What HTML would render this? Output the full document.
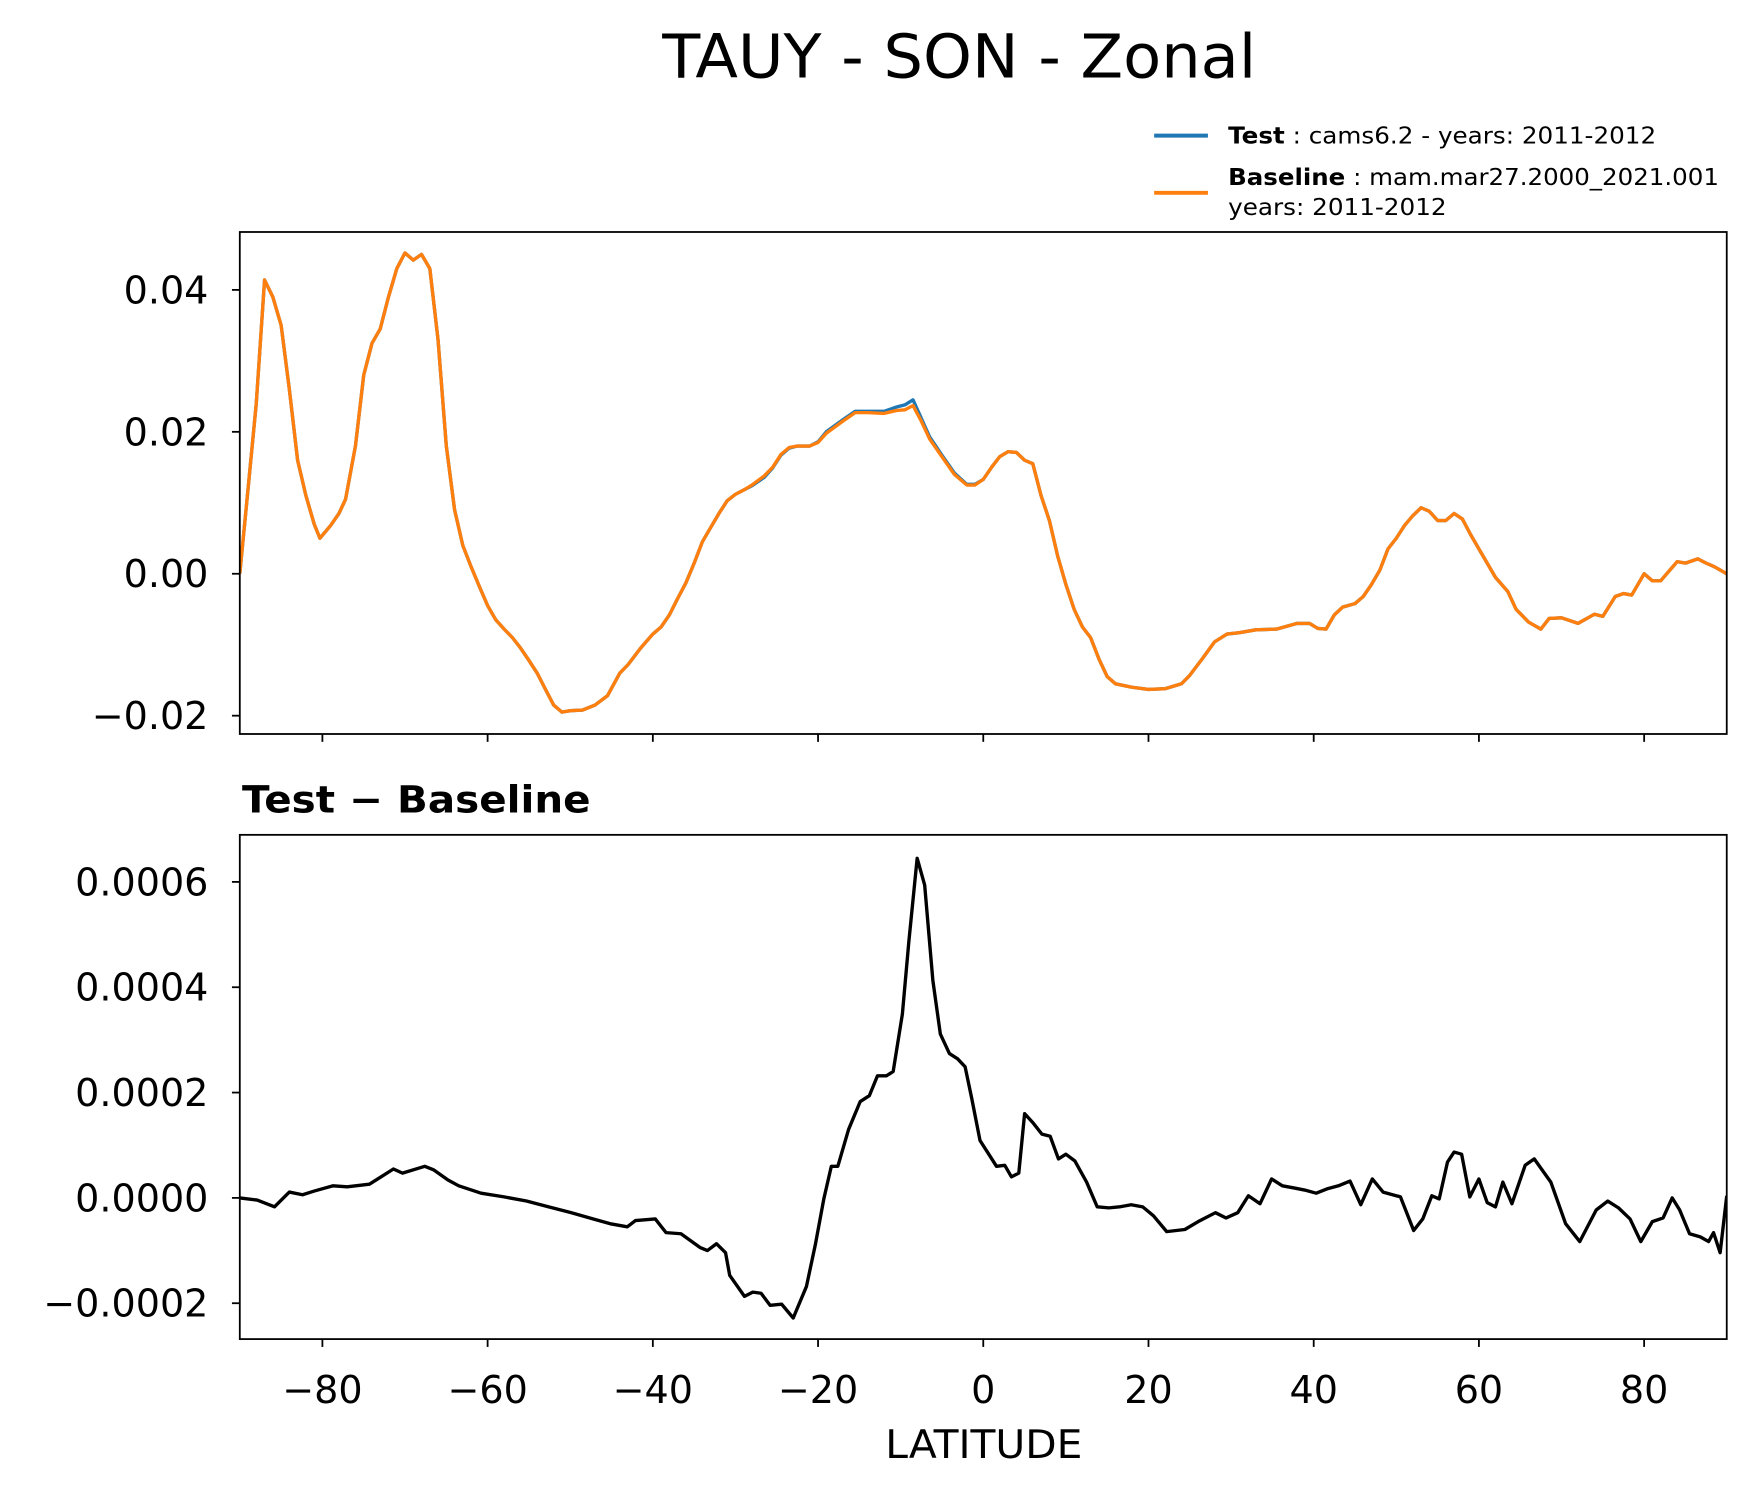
<!DOCTYPE html>
<html><head><meta charset="utf-8"><style>
html,body{margin:0;padding:0;background:#fff}
svg{display:block;font-family:"DejaVu Sans","Liberation Sans",sans-serif}
</style></head><body>
<svg id="chart" width="1757" height="1496" viewBox="0 0 1568 1335" xmlns="http://www.w3.org/2000/svg">
<rect width="1568" height="1335" fill="#fff"/>
<text x="856" y="69" font-size="54" text-anchor="middle" textLength="530" lengthAdjust="spacingAndGlyphs">TAUY - SON - Zonal</text>
<g>
<line x1="1030" y1="121" x2="1078" y2="121" stroke="#1f77b4" stroke-width="3.5"/>
<text x="1096" y="128" font-size="21" textLength="382" lengthAdjust="spacingAndGlyphs"><tspan font-weight="bold">Test</tspan> : cams6.2 - years: 2011-2012</text>
<line x1="1030" y1="172" x2="1078" y2="172" stroke="#ff7f0e" stroke-width="3.5"/>
<text x="1096" y="165" font-size="21" textLength="438" lengthAdjust="spacingAndGlyphs"><tspan font-weight="bold">Baseline</tspan> : mam.mar27.2000_2021.001</text>
<text x="1096" y="192" font-size="21" textLength="195" lengthAdjust="spacingAndGlyphs">years: 2011-2012</text>
</g>
<text x="216" y="725" font-size="33" font-weight="bold" textLength="311" lengthAdjust="spacingAndGlyphs">Test − Baseline</text>
<text x="878" y="1301" font-size="35" text-anchor="middle" textLength="176" lengthAdjust="spacingAndGlyphs">LATITUDE</text>
<g id="top"></g>
<g id="bot"></g>
</svg>
<script>
const lats=[-90,-89,-88,-87,-86,-85,-84,-83,-82,-81,-80.3,-79,-78,-77.2,-76,-75,-74,-73,-72,-71,-70,-69,-68,-67,-66,-65,-64,-63,-62,-61,-60,-59,-58,-57,-56,-55,-54,-53,-52,-51,-50,-48.5,-47,-45.5,-44,-43,-41.5,-40,-39,-38,-37,-36,-35,-34,-33,-32,-31,-30,-29,-28,-26.5,-25.5,-24.5,-23.5,-22.5,-21,-20,-19,-17,-15.5,-14,-12,-10.5,-9.5,-8.5,-7.5,-6.5,-5,-3.5,-2,-1,0,1,2,3,4,5,6,7,8,9,10,11,12,13,14,15,16,18,20,22,24,25,26.5,28,29.5,31,33,35.5,38,39.5,40.5,41.5,42.5,43.5,45,46,47,48,49,50,51,52,53,54,55,56,57,58,59,60,61,62,63.5,64.5,66,67.5,68.5,70,72,74,75,76.5,77.5,78.5,80,81,82,84,85,86.5,87.5,88.5,90];
const baseVals=[0,0.012,0.024,0.0414,0.039,0.035,0.026,0.016,0.011,0.007,0.005,0.0068,0.0085,0.0105,0.018,0.028,0.0325,0.0345,0.039,0.043,0.0452,0.0442,0.045,0.043,0.033,0.018,0.009,0.004,0.001,-0.0018,-0.0045,-0.0065,-0.0078,-0.009,-0.0105,-0.0122,-0.014,-0.0163,-0.0185,-0.0195,-0.0193,-0.0192,-0.0185,-0.0172,-0.014,-0.0128,-0.0105,-0.0085,-0.0075,-0.0058,-0.0035,-0.0013,0.0015,0.0045,0.0065,0.0085,0.0103,0.0112,0.0118,0.0125,0.0138,0.015,0.0168,0.0178,0.018,0.018,0.0185,0.0198,0.0215,0.0227,0.0227,0.0226,0.023,0.0231,0.0237,0.0215,0.019,0.0165,0.014,0.0125,0.0125,0.0133,0.015,0.0165,0.0172,0.0171,0.016,0.0155,0.011,0.0075,0.0025,-0.0015,-0.005,-0.0075,-0.009,-0.012,-0.0145,-0.0155,-0.016,-0.0163,-0.0162,-0.0155,-0.0143,-0.012,-0.0096,-0.0085,-0.0083,-0.0079,-0.0078,-0.007,-0.007,-0.0077,-0.0078,-0.0058,-0.0047,-0.0042,-0.0032,-0.0015,0.0005,0.0035,0.005,0.0068,0.0082,0.0093,0.0088,0.0075,0.0075,0.0085,0.0077,0.0055,0.0035,0.0015,-0.0005,-0.0025,-0.005,-0.0068,-0.0078,-0.0063,-0.0062,-0.007,-0.0057,-0.006,-0.0032,-0.0028,-0.003,0,-0.001,-0.001,0.0017,0.0015,0.0021,0.0015,0.001,0];
const testVals=[0,0.012,0.024,0.0414,0.039,0.035,0.026,0.016,0.011,0.007,0.005,0.0068,0.0085,0.0105,0.018,0.028,0.0325,0.0345,0.039,0.043,0.0452,0.0442,0.045,0.043,0.033,0.018,0.009,0.004,0.001,-0.0018,-0.0045,-0.0065,-0.0078,-0.009,-0.0105,-0.0122,-0.014,-0.0163,-0.0185,-0.0195,-0.0193,-0.0192,-0.0185,-0.0172,-0.014,-0.0128,-0.0105,-0.0085,-0.0075,-0.0058,-0.0035,-0.0013,0.0015,0.0045,0.0065,0.0085,0.0103,0.0112,0.0118,0.0124,0.0136,0.0149,0.0167,0.0177,0.018,0.018,0.0186,0.02,0.0217,0.0229,0.0229,0.0229,0.0235,0.0238,0.0245,0.0219,0.0193,0.0167,0.0142,0.0126,0.0126,0.0133,0.015,0.0165,0.0172,0.0171,0.016,0.0155,0.011,0.0075,0.0025,-0.0015,-0.005,-0.0075,-0.009,-0.012,-0.0145,-0.0155,-0.016,-0.0163,-0.0162,-0.0155,-0.0143,-0.012,-0.0096,-0.0085,-0.0083,-0.0079,-0.0078,-0.007,-0.007,-0.0077,-0.0078,-0.0058,-0.0047,-0.0042,-0.0032,-0.0015,0.0005,0.0035,0.005,0.0068,0.0082,0.0093,0.0088,0.0075,0.0075,0.0085,0.0077,0.0055,0.0035,0.0015,-0.0005,-0.0025,-0.005,-0.0068,-0.0078,-0.0063,-0.0062,-0.007,-0.0057,-0.006,-0.0032,-0.0028,-0.003,0,-0.001,-0.001,0.0017,0.0015,0.0021,0.0015,0.001,0];
const diffLats=[-90,-87.9,-85.8,-84,-82.4,-81,-78.7,-77,-74.3,-72.9,-71.4,-70.3,-67.6,-66.5,-64.8,-63.5,-60.8,-58,-55.3,-52.6,-49.9,-47.2,-45.2,-43.1,-42.1,-39.7,-38.4,-36.6,-34.3,-33.4,-32.3,-31.2,-30.7,-28.9,-27.9,-26.9,-25.8,-24.4,-23,-21.4,-20.3,-19.3,-18.4,-17.6,-16.3,-14.9,-13.8,-12.8,-11.7,-10.9,-9.8,-9,-8,-7.1,-6.1,-5.2,-4.1,-3.1,-2.2,-1.4,-0.4,0.5,1.6,2.6,3.4,4.3,5,6,7.1,8.1,9.1,10,11.1,12.5,13.8,15.2,16.5,17.9,19.3,20.6,22.2,24.4,26,28.1,29.4,30.8,32.1,33.5,34.9,36.2,37.6,38.9,40.3,41.6,43,44.4,45.7,47.1,48.4,50.5,52.1,53.2,54.3,55.2,56.2,57,57.9,58.9,60,61,62,62.9,64,65.6,66.7,68.7,70.5,72.2,74.2,75.6,76.9,78.3,79.6,81,82.3,83.4,84.3,85.5,86.8,87.8,88.4,89.2,90];
const diffVals=[0,-0.000004,-0.000017,0.000011,0.000006,0.000013,0.000023,0.000021,0.000026,0.00004,0.000055,0.000047,0.00006,0.000053,0.000034,0.000023,0.000009,0.000002,-0.000006,-0.000017,-0.000028,-0.00004,-0.000049,-0.000055,-0.000043,-0.00004,-0.000066,-0.000068,-0.000094,-0.0001,-0.000087,-0.000104,-0.000147,-0.000187,-0.000179,-0.000181,-0.000204,-0.000202,-0.000228,-0.000168,-0.000087,-0.000002,0.00006,0.00006,0.00013,0.000183,0.000194,0.000232,0.000232,0.00024,0.000349,0.000487,0.000645,0.000594,0.000413,0.000311,0.000274,0.000264,0.000249,0.000189,0.000109,0.000087,0.00006,0.000062,0.00004,0.000047,0.00016,0.000143,0.000121,0.000117,0.000074,0.000083,0.00007,0.00003,-0.000017,-0.000019,-0.000017,-0.000013,-0.000017,-0.000034,-0.000064,-0.00006,-0.000045,-0.000028,-0.000038,-0.000028,0.000004,-0.000011,0.000036,0.000023,0.000019,0.000015,0.000009,0.000017,0.000023,0.000032,-0.000013,0.000036,0.000011,0.000002,-0.000062,-0.00004,0.000004,-0.000002,0.000068,0.000087,0.000083,0.000002,0.000036,-0.000009,-0.000017,0.00003,-0.000011,0.000062,0.000074,0.00003,-0.000049,-0.000083,-0.000023,-0.000006,-0.000019,-0.00004,-0.000083,-0.000045,-0.000038,0,-0.000023,-0.000068,-0.000074,-0.000083,-0.000066,-0.000104,0.000004];
const xTicks=[-80,-60,-40,-20,0,20,40,60,80];
const xTickLabels=["−80","−60","−40","−20","0","20","40","60","80"];
const topYTicks=[-0.02,0,0.02,0.04];
const topYLabels=["−0.02","0.00","0.02","0.04"];
const botYTicks=[-0.0002,0,0.0002,0.0004,0.0006];
const botYLabels=["−0.0002","0.0000","0.0002","0.0004","0.0006"];

const NS="http://www.w3.org/2000/svg";
const L=214,R=1541;
const xs=v=>L+(v+90)/180*(R-L);
const yTop=v=>512-v*6333;
const yBot=v=>1069-v*470000;
function mk(tag,attrs,parent){const e=document.createElementNS(NS,tag);for(const k in attrs)e.setAttribute(k,attrs[k]);parent.appendChild(e);return e;}
function line(g,xv,yv,ys,color,name){
  let d="";for(let i=0;i<xv.length;i++)d+=(i?"L":"M")+xs(xv[i]).toFixed(1)+","+ys(yv[i]).toFixed(1);
  const p=mk("path",{d:d,fill:"none",stroke:color,"stroke-width":3,"stroke-linejoin":"round"},g);
  
  
}
function axes(g,top,bottom,yt,yl,ys,showX,prefix){
  const clip=mk("clipPath",{id:prefix+"clip"},g);
  mk("rect",{x:L,y:top,width:R-L,height:bottom-top},clip);
  for(let i=0;i<yt.length;i++){
    const y=ys(yt[i]);
    const t=mk("line",{x1:L-7,x2:L,y1:y,y2:y,stroke:"#000","stroke-width":1.6},g);
    
    
    const tx=mk("text",{x:L-28,y:y+12,"font-size":34,"text-anchor":"end"},g);
    tx.textContent=yl[i];
    
    
  }
  for(let i=0;i<xTicks.length;i++){
    const x=xs(xTicks[i]);
    const t=mk("line",{x1:x,x2:x,y1:bottom,y2:bottom+7,stroke:"#000","stroke-width":1.6},g);
    
    
    if(showX){
      const tx=mk("text",{x:x,y:bottom+57,"font-size":34,"text-anchor":"middle"},g);
      tx.textContent=xTickLabels[i];
      
      
    }
  }
  const plot=mk("g",{"clip-path":"url(#"+prefix+"clip)"},g);
  return plot;
}
function frame(g,top,bottom,name){
  const r=mk("rect",{x:L,y:top,width:R-L,height:bottom-top,fill:"none",stroke:"#000","stroke-width":1.6},g);
  
  
}
const gt=document.getElementById("top");


const pt=axes(gt,207,655,topYTicks,topYLabels,yTop,false,"top-");
line(pt,lats,testVals,yTop,"#1f77b4","test-line");
line(pt,lats,baseVals,yTop,"#ff7f0e","baseline-line");
frame(gt,207,655,"top-plot-frame");
const gb=document.getElementById("bot");


const pb=axes(gb,745,1195,botYTicks,botYLabels,yBot,true,"bot-");
line(pb,diffLats,diffVals,yBot,"#000","diff-line");
frame(gb,745,1195,"diff-plot-frame");
</script>
</body></html>
